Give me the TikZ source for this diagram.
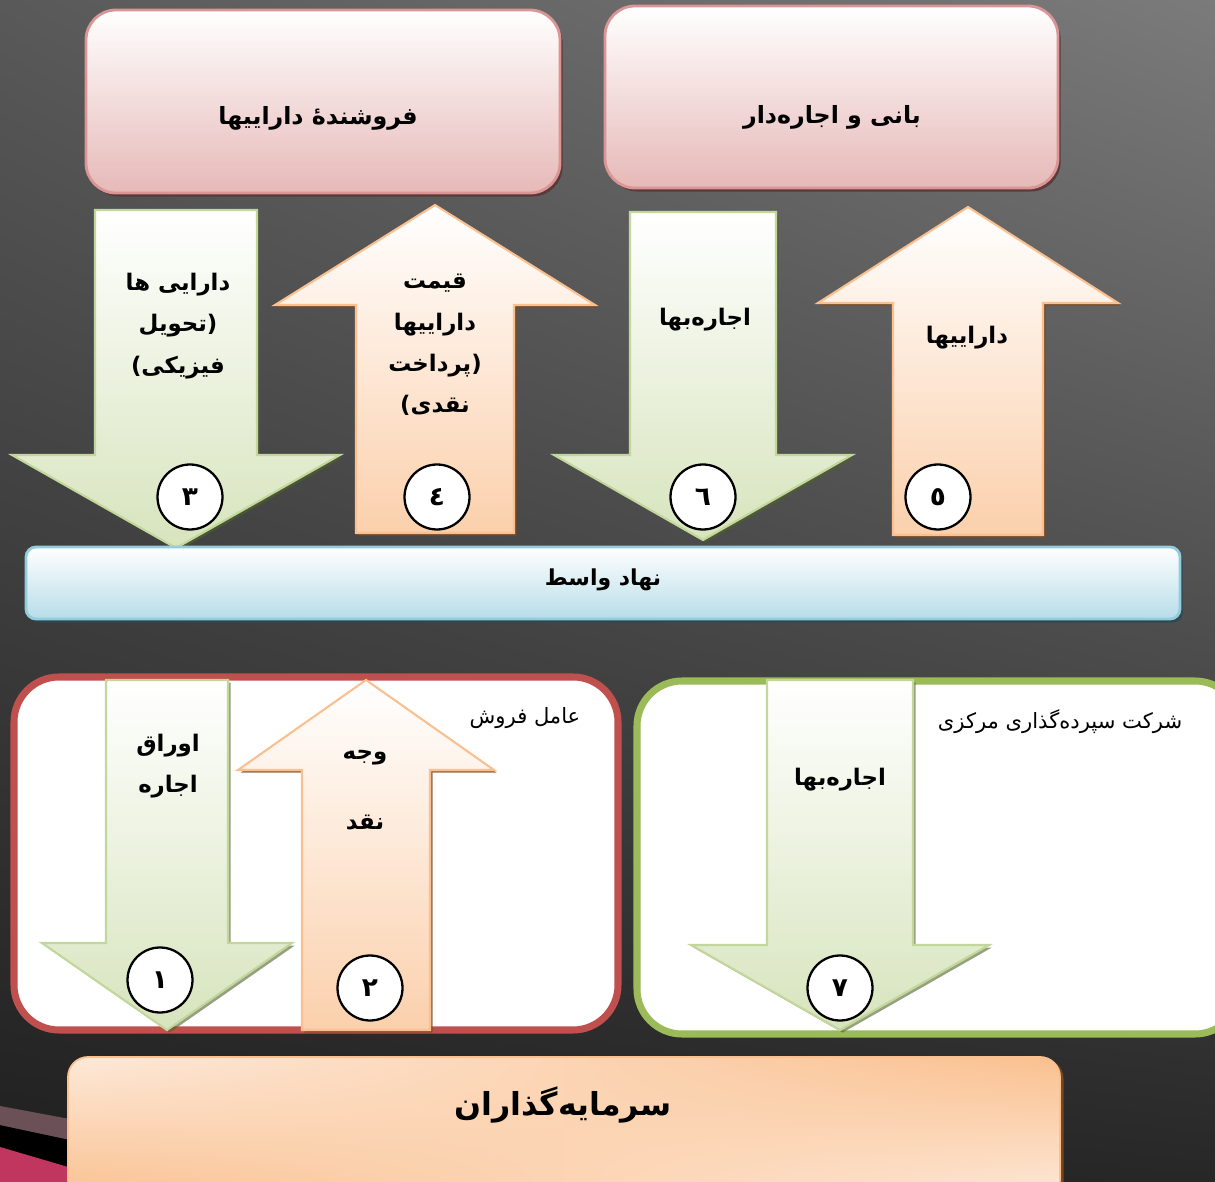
\documentclass[tikz,border=0pt]{standalone}
\usepackage{fontspec}
\usetikzlibrary{shadows,shadings}
\TeXXeTstate=1
\newfontfamily\farsi[Script=Arabic]{DejaVu Sans}
\newcommand\fa[1]{\beginR #1\endR}
\definecolor{bgTL}{HTML}{595959}
\definecolor{bgTR}{HTML}{7B7B7B}
\definecolor{bgBL}{HTML}{1F1F1F}
\definecolor{bgBR}{HTML}{272727}
\definecolor{pinkBot}{HTML}{E6B9B8}
\definecolor{pinkLine}{HTML}{D99694}
\definecolor{pinkShadow}{HTML}{5A3636}
\definecolor{greenBot}{HTML}{D7E4BD}
\definecolor{greenLine}{HTML}{C3D69B}
\definecolor{greenShadow}{HTML}{4F6228}
\definecolor{orangeBot}{HTML}{FBD0AC}
\definecolor{orangeLine}{HTML}{FAC090}
\definecolor{orangeShadow}{HTML}{7F4A1F}
\definecolor{blueBot}{HTML}{B7DDE8}
\definecolor{blueLine}{HTML}{93CDDD}
\definecolor{blueShadow}{HTML}{2B4A52}
\definecolor{redLine}{HTML}{C0504D}
\definecolor{oliveLine}{HTML}{9BBB59}
\definecolor{peachA}{HTML}{FDE9D9}
\definecolor{peachB}{HTML}{FAC08F}
\definecolor{swooshMauve}{HTML}{6B5058}
\definecolor{swooshPink}{HTML}{C0365F}
\tikzset{
  pinkbox/.style={draw=pinkLine, line width=1.6pt, rounded corners=0.6cm,
    top color=white, bottom color=pinkBot,
    drop shadow={shadow xshift=1.5pt, shadow yshift=-2pt, fill=pinkShadow, opacity=0.9}},
  bluebar/.style={draw=blueLine, line width=1.6pt, rounded corners=0.2cm,
    top color=white, bottom color=blueBot,
    drop shadow={shadow xshift=1.5pt, shadow yshift=-2pt, fill=blueShadow, opacity=0.9}},
  framebox/.style={fill=white, line width=4pt, rounded corners=0.9cm},
  greenarrow/.style={draw=greenLine, line width=1.2pt, top color=white, bottom color=greenBot,
    drop shadow={shadow xshift=1.5pt, shadow yshift=-1.5pt, fill=greenShadow, opacity=0.6}},
  orangearrow/.style={draw=orangeLine, line width=1.2pt, top color=white, bottom color=orangeBot,
    drop shadow={shadow xshift=1.5pt, shadow yshift=-1.5pt, fill=orangeShadow, opacity=0.8}},
  boxtxt/.style={font=\farsi\bfseries\fontsize{13.5}{16}\selectfont},
  arrowtxt/.style={align=center, font=\farsi\bfseries\fontsize{13}{23.5}\selectfont},
  smalltxt/.style={font=\farsi\fontsize{12}{14}\selectfont},
  stepnum/.style={circle, draw=black, line width=1.3pt, fill=white, minimum size=1.3cm,
    inner sep=0pt, font=\farsi\bfseries\fontsize{15}{17}\selectfont}
}
% #1 centre x, #2 half shaft, #3 top, #4 head base, #5 tip, #6 half head
\def\downArrow#1#2#3#4#5#6{
\path[greenarrow] (#1-#2,#3) -- (#1+#2,#3) -- (#1+#2,#4) -- (#1+#6,#4) -- (#1,#5) -- (#1-#6,#4) -- (#1-#2,#4) -- cycle;
}
% #1 centre x, #2 half shaft, #3 tip, #4 head base, #5 bottom, #6 half head
\def\upArrow#1#2#3#4#5#6{
\path[orangearrow] (#1,#3) -- (#1+#6,#4) -- (#1+#2,#4) -- (#1+#2,#5) -- (#1-#2,#5) -- (#1-#2,#4) -- (#1-#6,#4) -- cycle;
}
\begin{document}
\begin{tikzpicture}[x=0.02cm, y=-0.02cm]
\useasboundingbox (0,0) rectangle (1215,1182);
\shade[upper left=bgTL, upper right=bgTR, lower left=bgBL, lower right=bgBR] (0,0) rectangle (1215,1182);
\fill[black] (0,1125) -- (75,1141) -- (75,1182) -- (0,1182) -- cycle;
\fill[swooshMauve] (0,1106) -- (75,1120) -- (75,1141) -- (0,1125) -- cycle;
\fill[swooshPink] (0,1147) -- (75,1169) -- (75,1182) -- (0,1182) -- cycle;

\path[pinkbox] (86,10) rectangle (560,193);
\node[boxtxt] (seller) at (318,118) {\fa{فروشنده^^^^0654 داراییها}};
\path[pinkbox] (605,6) rectangle (1058,188);
\node[boxtxt] (founder) at (832,117) {\fa{بانی و اجاره^^^^200cدار}};

\downArrow{176}{81}{210}{455}{548}{164}
\upArrow{435}{79}{205}{305}{533}{160}
\downArrow{703}{73}{212}{455}{540}{149}
\upArrow{968}{75}{207}{303}{535}{150}
\node[arrowtxt] (assetsA) at (178,326) {\fa{دارایی ها}\\\fa{(تحویل}\\\fa{فیزیکی)}};
\node[arrowtxt] (price) at (435,345) {\fa{قیمت}\\\fa{داراییها}\\\fa{(پرداخت}\\\fa{نقدی)}};
\node[arrowtxt] (rentA) at (705,320) {\fa{اجاره^^^^200cبها}};
\node[arrowtxt] (assetsB) at (967,338) {\fa{داراییها}};
\node[stepnum] (s3) at (190,497) {٣};
\node[stepnum] (s4) at (437,497) {٤};
\node[stepnum] (s6) at (703,497) {٦};
\node[stepnum] (s5) at (938,497) {٥};

\path[bluebar] (26,547) rectangle (1180,619);
\node[boxtxt, font=\farsi\bfseries\fontsize{12.5}{15}\selectfont] (spv) at (603,580) {\fa{نهاد واسط}};

\path[framebox, draw=redLine] (14,677) rectangle (618,1030);
\node[smalltxt] (agent) at (525,718) {\fa{عامل فروش}};
\path[framebox, draw=oliveLine] (637,681) rectangle (1240,1034);
\node[smalltxt] (depository) at (1060,722) {\fa{شرکت سپرده^^^^200cگذاری مرکزی}};

\downArrow{167}{61}{680}{943}{1030}{125}
\upArrow{366}{64}{680}{770}{1030}{128}
\downArrow{840}{73}{680}{945}{1030}{149}
\node[arrowtxt] (bonds) at (168,766) {\fa{اوراق}\\\fa{اجاره}};
\node[arrowtxt, font=\farsi\bfseries\fontsize{13}{40}\selectfont] (cash) at (365,790) {\fa{وجه}\\\fa{نقد}};
\node[arrowtxt] (rentB) at (840,780) {\fa{اجاره^^^^200cبها}};
\node[stepnum] (s1) at (160,980) {١};
\node[stepnum] (s2) at (370,988) {٢};
\node[stepnum] (s7) at (840,988) {٧};

\path[draw=peachB, line width=1pt, rounded corners=0.4cm, upper left=peachA, upper right=peachB,
  lower left=peachB, lower right=peachA,
  drop shadow={shadow xshift=2pt, shadow yshift=-1pt, fill=orangeShadow, opacity=0.9}] (68,1057) rectangle (1060,1200);
\node[boxtxt, font=\farsi\bfseries\fontsize{18}{22}\selectfont] (investors) at (563,1105) {\fa{سرمایه^^^^200cگذاران}};
\end{tikzpicture}
\end{document}
